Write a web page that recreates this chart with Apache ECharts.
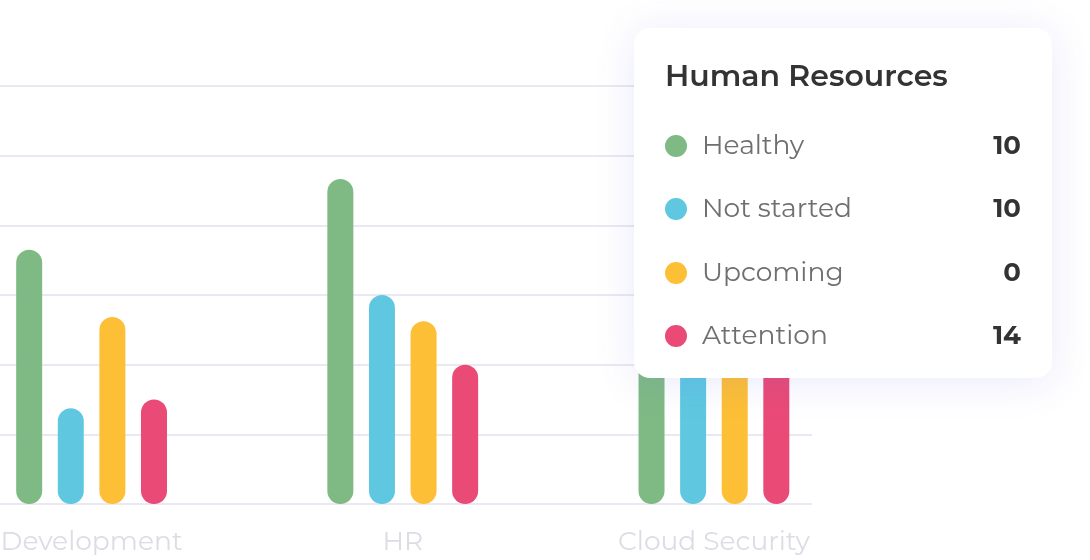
<!DOCTYPE html>
<html><head><meta charset="utf-8">
<script src="https://cdn.jsdelivr.net/npm/echarts@6/dist/echarts.min.js"></script>
<style>html,body{margin:0;padding:0;background:#fff;overflow:hidden;width:1090px;height:560px;position:relative}
#c{position:absolute;left:-64px;top:0;width:1154px;height:560px}</style>
</head><body><div id="c"></div>
<script>
// ---- data ----
const categories = ['Development', 'HR', 'Cloud Security'];
const seriesNames = ['Healthy', 'Not started', 'Upcoming', 'Attention'];
const healthy    = [7.3, 9.33, 4.6];
const notStarted = [2.75, 6.0, 4.8];
const upcoming   = [5.37, 5.25, 4.4];
const attention  = [3.0, 4.0, 4.7];
const yMax = 12;
const yInterval = 2;
const tooltipTitle = 'Human Resources';
const tooltipLabels = ['Healthy', 'Not started', 'Upcoming', 'Attention'];
const tooltipValues = [10, 10, 0, 14];

// ---- style ----
const colors = ['#7fba84', '#5fc8e0', '#fdbf35', '#ea4a76'];
const FONT = 'Montserrat, "Open Sans", sans-serif';
const seriesData = [healthy, notStarted, upcoming, attention];
const OX = 64; // container offset

const chart = echarts.init(document.getElementById('c'), null, {renderer: 'canvas'});

const rowY = [146, 209, 273, 336];
const graphics = [
  {type: 'rect', z: 100, shape: {x: 634 + OX, y: 28, width: 418, height: 350, r: 16},
   style: {fill: '#fff', shadowBlur: 40, shadowColor: 'rgba(100,100,230,0.14)', shadowOffsetY: 4}},
  {type: 'text', z: 101, x: 665 + OX, y: 77,
   style: {text: tooltipTitle, font: '600 30px ' + FONT, fill: '#333', verticalAlign: 'middle'}}
];
tooltipLabels.forEach((lab, i) => {
  graphics.push({type: 'circle', z: 101, shape: {cx: 676 + OX, cy: rowY[i], r: 11}, style: {fill: colors[i]}});
  graphics.push({type: 'text', z: 101, x: 702 + OX, y: rowY[i],
    style: {text: lab, font: '400 26.5px ' + FONT, fill: '#6f6f6f', verticalAlign: 'middle'}});
  graphics.push({type: 'text', z: 101, x: 1021 + OX, y: rowY[i],
    style: {text: String(tooltipValues[i]), font: '700 26px ' + FONT, fill: '#333', align: 'right', verticalAlign: 'middle'}});
});

chart.setOption({
  animation: false,
  grid: [
    {left: 0, right: 278, top: 86, bottom: 56},
    {left: -1, right: 220.5, top: 86, bottom: 56}
  ],
  xAxis: [
    {gridIndex: 0, type: 'category', data: categories, show: false},
    {gridIndex: 1, type: 'category', data: categories,
     axisLine: {show: false}, axisTick: {show: false},
     axisLabel: {color: '#dddce5', fontSize: 26.5, fontFamily: FONT, margin: 25}}
  ],
  yAxis: [
    {gridIndex: 0, type: 'value', min: 0, max: yMax, interval: yInterval,
     axisLabel: {show: false}, axisLine: {show: false}, axisTick: {show: false},
     splitLine: {show: true, lineStyle: {color: '#eae9f1', width: 2}}},
    {gridIndex: 1, type: 'value', min: 0, max: yMax, interval: yInterval, show: false,
     splitLine: {show: false}}
  ],
  graphic: graphics,
  series: seriesNames.map((n, i) => ({
    name: n, type: 'bar', xAxisIndex: 1, yAxisIndex: 1,
    data: seriesData[i], barWidth: 26, barGap: '60%',
    itemStyle: {color: colors[i], borderRadius: 13}
  }))
});
</script></body></html>
